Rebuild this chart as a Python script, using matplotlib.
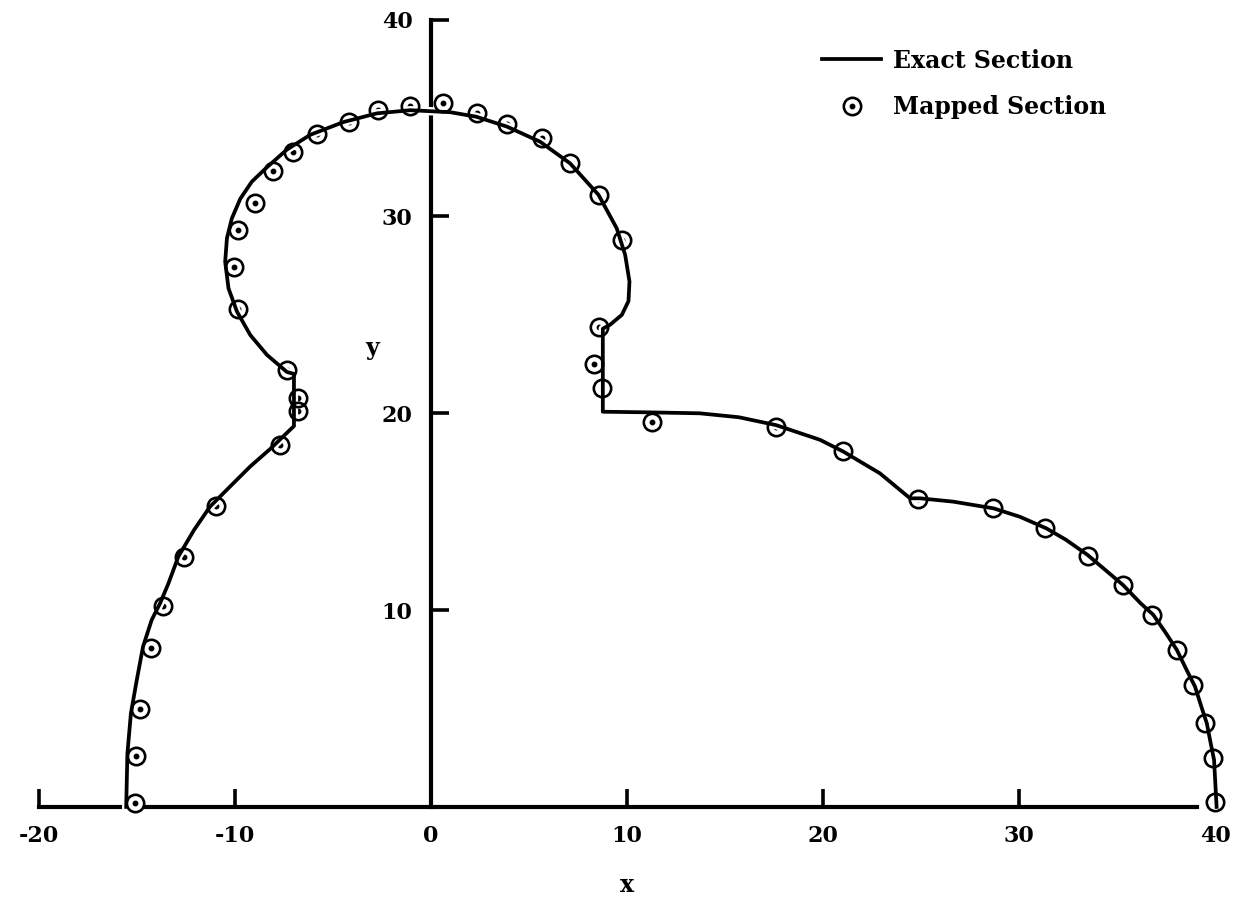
import matplotlib
matplotlib.use("Agg")
import matplotlib.pyplot as plt
import matplotlib.patheffects as pe
from matplotlib.legend_handler import HandlerTuple

plt.rcParams['font.family'] = ['DejaVu Serif']
plt.rcParams['font.weight'] = 'bold'

# exact section outline, left foot -> round the top -> right foot
exact_x = [-15.56, -15.5, -15.32, -15.02, -14.7, -14.26, -13.83, -13.4, -12.9, -12.1,
           -11.28, -10.26, -9.23, -8.2, -7.2, -7.0, -7.0,
           -7.36, -8.38, -9.23, -9.91, -10.34, -10.51, -10.42, -10.17, -9.74, -9.15,
           -8.38, -7.36, -6.17, -4.47, -2.77, -1.07, 0.97, 2.3, 3.86, 5.56,
           7.09, 8.54, 9.47, 9.9, 10.12, 10.07, 9.73, 9.13, 8.76, 8.76,
           11.0, 13.7, 15.7, 17.6, 19.85, 21.04, 22.9, 24.44, 24.95, 26.65,
           28.7, 30.05, 31.4, 32.4, 33.5, 34.4, 35.3, 36.2, 36.85, 37.5,
           38.05, 38.55, 38.98, 39.3, 39.58, 39.78, 39.95, 40.08]
exact_y = [0.0, 2.7, 4.76, 6.45, 8.15, 9.5, 10.35, 11.37, 12.72, 14.07,
           15.26, 16.28, 17.3, 18.2, 19.16, 19.35, 22.0,
           22.1, 22.97, 23.98, 25.17, 26.35, 27.7, 28.9, 29.9, 30.9, 31.77,
           32.5, 33.4, 34.15, 34.8, 35.24, 35.4, 35.3, 35.07, 34.57, 33.8,
           32.7, 31.1, 29.4, 28.05, 26.7, 25.7, 25.0, 24.5, 24.3, 20.08,
           20.05, 20.0, 19.8, 19.4, 18.65, 18.05, 16.95, 15.68, 15.68, 15.51,
           15.17, 14.74, 14.15, 13.57, 12.8, 12.04, 11.28, 10.35, 9.76, 8.82,
           7.98, 6.96, 6.11, 5.1, 4.25, 3.23, 2.39, 0.0]

# mapped section points
mapped_x = [-15.1, -15.05, -14.85, -14.3, -13.66, -12.6, -11.0, -7.7, -6.77, -6.77,
            -7.36, -9.88, -10.05, -9.83, -8.98, -8.05, -7.03, -5.83, -4.2, -2.7,
            -1.07, 0.63, 2.33, 3.86, 5.65, 7.09, 8.54, 9.73, 8.57, 8.33,
            8.71, 11.26, 17.6, 21.0, 24.86, 28.69, 31.33, 33.54, 35.32, 36.77,
            38.04, 38.89, 39.5, 39.9, 40.0]
mapped_y = [0.2, 2.6, 5.0, 8.1, 10.2, 12.7, 15.3, 18.4, 20.1, 20.8,
            22.2, 25.3, 27.45, 29.3, 30.7, 32.3, 33.3, 34.2, 34.8, 35.4,
            35.6, 35.75, 35.24, 34.7, 34.0, 32.7, 31.1, 28.8, 24.4, 22.5,
            21.3, 19.57, 19.3, 18.1, 15.67, 15.17, 14.16, 12.75, 11.28, 9.76,
            7.98, 6.2, 4.28, 2.47, 0.27]

xticks = [-20, -10, 0, 10, 20, 30, 40]
xtick_labels = ['-20', '-10', '0', '10', '20', '30', '40']
yticks = [10, 20, 30, 40]

fig = plt.figure(figsize=(12.46, 9.01), dpi=100)
ax = fig.add_axes([0, 0, 1, 1])
ax.set_xlim(-22.0, 41.58)
ax.set_ylim(-4.78, 41.0)

for s in ['top', 'right']:
    ax.spines[s].set_visible(False)
ax.spines['left'].set_position(('data', 0))
ax.spines['bottom'].set_position(('data', 0))
ax.spines['left'].set_bounds(0, 40)
ax.spines['bottom'].set_bounds(-20, 39.1)
ax.spines['left'].set_linewidth(3)
ax.spines['bottom'].set_linewidth(3)

ax.set_xticks(xticks)
ax.set_xticklabels(xtick_labels)
ax.set_yticks(yticks)
ax.tick_params(axis='both', direction='in', length=13, width=2.6, labelsize=16)
ax.tick_params(axis='y', pad=13.5)
ax.tick_params(axis='x', pad=13)

# white disc under the curve so the axis breaks around the points
ax.plot(mapped_x, mapped_y, ls='none', marker='o', ms=12.5, mew=0,
        mfc='white', zorder=2.8)
dot, = ax.plot(mapped_x, mapped_y, ls='none', marker='o', ms=3.2, color='black', zorder=2.9)
line, = ax.plot(exact_x, exact_y, color='black', lw=2.7, zorder=3,
                solid_joinstyle='round', label='Exact Section',
                path_effects=[pe.Stroke(linewidth=6, foreground='white'), pe.Normal()])
circ, = ax.plot(mapped_x, mapped_y, ls='none', marker='o', ms=12.5, mew=1.9,
                mec='black', mfc='none', zorder=3.5)

ax.text(10, -3.96, 'x', ha='center', va='center', fontsize=17)
ax.text(-3.0, 23.3, 'y', ha='center', va='center', fontsize=17)

ax.legend([line, (circ, dot)], ['Exact Section', 'Mapped Section'],
          handler_map={tuple: HandlerTuple(ndivide=1, pad=0)},
          loc='center left', bbox_to_anchor=(0.66, 0.907), bbox_transform=fig.transFigure,
          frameon=False, fontsize=17, handlelength=2.5, handletextpad=0.5,
          labelspacing=0.95, borderpad=0, borderaxespad=0)

fig.savefig('out.png', dpi=100)
